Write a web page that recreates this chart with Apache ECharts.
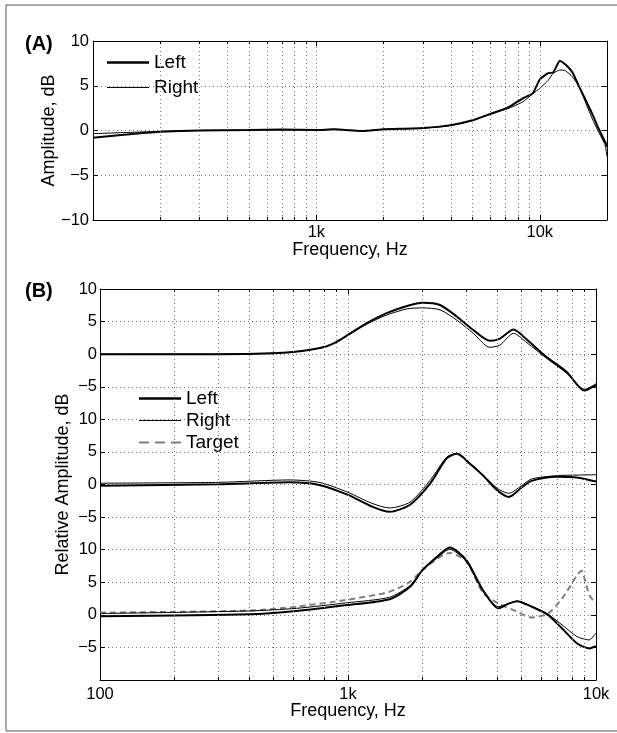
<!DOCTYPE html>
<html>
<head>
<meta charset="utf-8">
<script src="https://cdn.jsdelivr.net/npm/echarts@6/dist/echarts.min.js"></script>
<style>
  html, body { margin: 0; padding: 0; background: #fff; }
  #chart { width: 617px; height: 733px; }
</style>
</head>
<body>
<div id="chart"></div>
<script>
// panel (A): measured amplitude, dB
const freqA = [100, 150, 200, 300, 500, 700, 1000, 1200, 1600, 2000, 3000, 4000, 5000, 6000, 7300, 8400, 9300, 10000, 10900, 11500, 12300, 13000, 14000, 15000, 16200, 17400, 18300, 19600, 20000]
const leftA = [-0.8, -0.4, -0.15, 0.0, 0.05, 0.1, 0.05, 0.13, -0.05, 0.13, 0.28, 0.6, 1.15, 1.85, 2.65, 3.6, 4.15, 5.7, 6.4, 6.5, 7.8, 7.4, 6.5, 4.9, 3.2, 1.55, 0.25, -1.25, -1.8]
const rightA = [-0.35, -0.2, -0.1, 0.0, 0.05, 0.1, 0.05, 0.13, -0.05, 0.13, 0.25, 0.55, 1.1, 1.8, 2.5, 3.2, 4.1, 4.7, 5.6, 6.4, 6.75, 6.7, 6.0, 4.9, 2.85, 1.0, -0.13, -1.6, -2.9]

// panel (B): three stacked comparisons, relative amplitude, dB
const freqB1 = [100, 300, 500, 640, 794, 900, 1000, 1190, 1430, 1730, 2000, 2350, 2750, 3200, 3730, 4100, 4650, 5270, 6300, 7600, 9000, 9850, 10000]
const leftB1 = [0, 0, 0.15, 0.45, 1.05, 1.9, 2.95, 4.75, 6.3, 7.4, 7.9, 7.55, 5.75, 3.7, 2.05, 2.4, 3.8, 2.2, -0.4, -2.7, -5.6, -4.9, -4.7]
const rightB1 = [0, 0, 0.15, 0.45, 1.05, 1.9, 2.9, 4.6, 6.0, 6.95, 7.1, 6.8, 5.2, 3.2, 1.05, 1.4, 3.2, 1.75, -0.6, -2.9, -5.4, -4.7, -4.5]

const freqB2 = [100, 300, 584, 772, 1000, 1250, 1470, 1780, 2150, 2500, 2750, 3100, 3500, 4000, 4450, 5000, 5500, 6900, 8500, 10000]
const leftB2 = [-0.2, 0.03, 0.33, -0.1, -1.6, -3.4, -4.2, -3.1, 0.2, 4.0, 4.7, 3.2, 1.4, -0.9, -1.9, -0.5, 0.55, 1.2, 1.05, 0.45]
const rightB2 = [0.2, 0.33, 0.7, 0.3, -1.2, -2.9, -3.6, -2.7, 0.7, 4.2, 4.8, 3.3, 1.5, -0.6, -1.35, -0.2, 0.85, 1.35, 1.45, 1.5]

const freqB3 = [100, 400, 620, 990, 1470, 1780, 2000, 2300, 2570, 3000, 3500, 4040, 4400, 4800, 5500, 6400, 7300, 8400, 9400, 9850, 10000]
const leftB3 = [-0.2, 0.1, 0.6, 1.5, 2.4, 4.3, 6.9, 9.0, 10.35, 8.4, 3.8, 1.0, 1.65, 2.1, 1.25, 0, -2.1, -4.4, -5.15, -4.9, -4.8]
const rightB3 = [0.2, 0.6, 1.0, 1.85, 2.7, 4.5, 6.9, 8.8, 10.05, 8.2, 3.6, 1.25, 1.7, 2.1, 1.3, 0.1, -1.55, -3.35, -3.85, -3.1, -2.8]
const freqT = [100, 400, 620, 990, 1470, 1780, 2000, 2570, 3000, 3500, 4040, 4800, 5500, 6400, 7300, 8400, 8750, 9100, 9400, 9850, 10000]
const targetB3 = [0.35, 0.65, 1.25, 2.3, 3.55, 5.1, 6.9, 9.5, 8.2, 3.4, 1.75, 0.5, -0.4, 0.2, 2.5, 6.1, 6.75, 4.8, 3.05, 2.0, 1.8]

// offsets used to stack the three groups of panel (B) on one axis
const offsetsB = [40, 20, 0]

const FONT = 'Liberation Sans, Arial, Helvetica, sans-serif'
const minorA = [200, 300, 400, 500, 600, 700, 800, 900, 2000, 3000, 4000, 5000, 6000, 7000, 8000, 9000]
const minorB = minorA
const gridDot = { type: [1, 3], color: '#777', width: 1 }

// legend glyphs (keepAspect scales them to the item width)
const iconThick = 'path://M0,0h84v5h-84z'
const iconThin = 'path://M0,0h84v2.4h-84z'
const iconDash = 'path://M0,0h20v4h-20z M32,0h20v4h-20z M64,0h20v4h-20z'

function pairs(xs, ys, off) {
  return xs.map((x, i) => [x, ys[i] + (off || 0)])
}

function fmtFreq(v, hide100) {
  if (v < 150) return hide100 ? '' : '100'
  if (v > 15000) return ''
  return v >= 1000 ? Math.round(v / 1000) + 'k' : String(Math.round(v))
}

// dotted vertical grid + small inside ticks top/bottom
function gridSeries(xi, yi, minors, majors, yMin, yMax, mLen, MLen) {
  const lines = []
  minors.concat(majors).forEach(f => {
    lines.push({ xAxis: f, lineStyle: gridDot })
  })
  minors.forEach(f => {
    lines.push([{ coord: [f, yMin] }, { coord: [f, yMin + mLen] }])
    lines.push([{ coord: [f, yMax] }, { coord: [f, yMax - mLen] }])
  })
  majors.forEach(f => {
    lines.push([{ coord: [f, yMin] }, { coord: [f, yMin + MLen] }])
    lines.push([{ coord: [f, yMax] }, { coord: [f, yMax - MLen] }])
  })
  return {
    type: 'line', xAxisIndex: xi, yAxisIndex: yi, data: [[1000, 0]],
    symbol: 'none', lineStyle: { opacity: 0 }, silent: true, z: 1,
    markLine: {
      silent: true, symbol: 'none', animation: false,
      label: { show: false },
      lineStyle: { type: 'solid', color: '#000', width: 1 },
      data: lines
    }
  }
}

function curve(name, xi, yi, data, width, extra) {
  return Object.assign({
    name: name, type: 'line', xAxisIndex: xi, yAxisIndex: yi,
    data: data, symbol: 'none', smooth: 0.25, z: 3,
    lineStyle: { color: '#000', width: width },
    itemStyle: { color: '#000' }
  }, extra || {})
}

const tickText = { fontSize: 16.5, color: '#000', fontFamily: FONT }
const nameText = { fontSize: 18, color: '#000', fontFamily: FONT }
const frame = { show: true, onZero: false, lineStyle: { color: '#000', width: 1 } }
const inTick = { inside: true, length: 5, lineStyle: { color: '#000' } }

const chart = echarts.init(document.getElementById('chart'))
chart.setOption({
  animation: false,
  backgroundColor: '#fff',
  textStyle: { fontFamily: FONT },
  graphic: [
    { type: 'rect', shape: { x: 6, y: 5, width: 640, height: 726 }, style: { fill: 'none', stroke: '#555', lineWidth: 1 }, silent: true },
    { type: 'text', left: 25, top: 34, style: { text: '(A)', font: 'bold 20px ' + FONT, fill: '#000' } },
    { type: 'text', left: 25, top: 281, style: { text: '(B)', font: 'bold 20px ' + FONT, fill: '#000' } }
  ],
  grid: [
    { left: 93, top: 41, width: 514, height: 179 },
    { left: 100, top: 289, width: 496, height: 391 }
  ],
  legend: [
    {
      data: [{ name: 'Left', icon: iconThick }, { name: 'Right', icon: iconThin }],
      orient: 'vertical', left: 107, top: 53, padding: 0,
      itemWidth: 42, itemHeight: 20, itemGap: 6, selectedMode: false,
      textStyle: { fontSize: 19, color: '#000', fontFamily: FONT }
    },
    {
      data: [{ name: 'Left', icon: iconThick }, { name: 'Right', icon: iconThin }, { name: 'Target', icon: iconDash }],
      orient: 'vertical', left: 139, top: 389, padding: 0,
      itemWidth: 42, itemHeight: 20, itemGap: 3, selectedMode: false,
      textStyle: { fontSize: 19, color: '#000', fontFamily: FONT }
    }
  ],
  xAxis: [
    {
      gridIndex: 0, type: 'log', logBase: 10, min: 100, max: 20000, position: 'bottom',
      name: 'Frequency, Hz', nameLocation: 'middle', nameGap: 21, nameMoveOverlap: false, nameTextStyle: nameText,
      axisLine: frame, axisTick: inTick,
      axisLabel: { formatter: v => fmtFreq(v, true), margin: 4, ...tickText },
      splitLine: { show: false }
    },
    {
      gridIndex: 0, type: 'log', logBase: 10, min: 100, max: 20000, position: 'top',
      axisLine: frame, axisTick: { show: false }, axisLabel: { show: false }, splitLine: { show: false }
    },
    {
      gridIndex: 1, type: 'log', logBase: 10, min: 100, max: 10000, position: 'bottom',
      name: 'Frequency, Hz', nameLocation: 'middle', nameGap: 22, nameMoveOverlap: false, nameTextStyle: nameText,
      axisLine: frame, axisTick: inTick,
      axisLabel: { formatter: v => fmtFreq(v, false), margin: 6, ...tickText },
      splitLine: { show: false }
    },
    {
      gridIndex: 1, type: 'log', logBase: 10, min: 100, max: 10000, position: 'top',
      axisLine: frame, axisTick: { show: false }, axisLabel: { show: false }, splitLine: { show: false }
    }
  ],
  yAxis: [
    {
      gridIndex: 0, type: 'value', min: -10, max: 10, interval: 5, position: 'left',
      name: 'Amplitude, dB', nameLocation: 'middle', nameGap: 35, nameMoveOverlap: false, nameTextStyle: nameText,
      axisLine: frame, axisTick: inTick,
      axisLabel: { margin: 4, formatter: v => String(v).replace('-', '\u2212'), ...tickText },
      splitLine: { show: true, lineStyle: gridDot }
    },
    {
      gridIndex: 0, type: 'value', min: -10, max: 10, interval: 5, position: 'right',
      axisLine: frame, axisTick: inTick,
      axisLabel: { show: false }, splitLine: { show: false }
    },
    {
      gridIndex: 1, type: 'value', min: -10, max: 50, interval: 5, position: 'left',
      name: 'Relative Amplitude, dB', nameLocation: 'middle', nameGap: 28, nameMoveOverlap: false, nameTextStyle: nameText,
      axisLine: frame, axisTick: inTick,
      axisLabel: {
        margin: 3, ...tickText,
        formatter: v => {
          if (v <= -10) return ''
          const d = ((v + 5) % 20 + 20) % 20 - 5
          return String(d).replace('-', '\u2212')
        }
      },
      splitLine: { show: true, lineStyle: gridDot }
    },
    {
      gridIndex: 1, type: 'value', min: -10, max: 50, interval: 5, position: 'right',
      axisLine: frame, axisTick: inTick,
      axisLabel: { show: false }, splitLine: { show: false }
    }
  ],
  series: [
    gridSeries(0, 0, minorA, [1000, 10000], -10, 10, 0.35, 0.6),
    gridSeries(2, 2, minorB, [1000], -10, 50, 0.45, 0.8),

    curve('Left', 0, 0, pairs(freqA, leftA), 2, { smooth: 0.15 }),
    curve('Right', 0, 0, pairs(freqA, rightA), 1, { smooth: 0.15 }),

    curve('Left', 2, 2, pairs(freqB1, leftB1, offsetsB[0]), 2),
    curve('Right', 2, 2, pairs(freqB1, rightB1, offsetsB[0]), 1),
    curve('Left', 2, 2, pairs(freqB2, leftB2, offsetsB[1]), 2),
    curve('Right', 2, 2, pairs(freqB2, rightB2, offsetsB[1]), 1),
    curve('Left', 2, 2, pairs(freqB3, leftB3, offsetsB[2]), 2),
    curve('Right', 2, 2, pairs(freqB3, rightB3, offsetsB[2]), 1),
    curve('Target', 2, 2, pairs(freqT, targetB3, offsetsB[2]), 2, {
      lineStyle: { color: '#808080', width: 2, type: [6, 4] },
      itemStyle: { color: '#808080' }, z: 2
    })
  ]
})
</script>
</body>
</html>
